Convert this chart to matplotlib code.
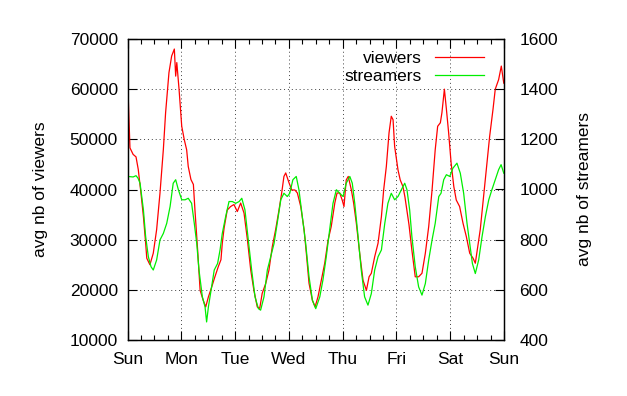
import matplotlib
matplotlib.use("Agg")
import matplotlib.pyplot as plt
from matplotlib.ticker import MultipleLocator

# ── Data (time in hours since Sunday 00:00) ─────────────────────────────────
VIEW_HOURS = [0.1, 0.7, 1.1, 2.5, 3.8, 4.8, 6.0, 7.1, 8.1, 8.6, 10.0, 11.5, 13.0,
              14.5, 16.0, 17.0, 18.5, 19.7, 20.9, 21.5, 22.0, 23.0, 24.2, 25.3,
              26.4, 27.1, 28.3, 29.4, 30.1, 31.3, 32.4, 33.8, 34.9, 36.1, 37.6,
              39.0, 40.5, 41.7, 42.3, 43.1, 44.5, 46.0, 47.5, 49.0, 50.5, 52.0,
              53.5, 55.0, 56.4, 57.9, 59.0, 60.1, 61.7, 63.1, 64.6, 66.1, 67.6,
              68.8, 69.8, 70.6, 72.1, 73.3, 74.7, 75.8, 77.3, 78.8, 79.8, 81.0,
              82.5, 83.7, 85.0, 86.5, 88.0, 89.5, 90.9, 92.5, 93.5, 94.7, 95.8,
              96.6, 97.6, 98.5, 99.9, 100.9, 102.1, 103.6, 105.1, 106.6, 107.8,
              108.8, 110.3, 111.8, 113.3, 114.3, 115.5, 116.7, 117.7, 118.5,
              119.2, 120.7, 121.7, 122.9, 123.8, 125.6, 126.9, 128.4, 129.9,
              131.4, 132.9, 134.4, 135.9, 137.3, 138.4, 139.6, 140.3, 141.4,
              142.3, 143.3, 144.4, 145.6, 146.7, 148.2, 149.7, 151.2, 152.7,
              154.2, 155.2, 156.3, 157.4, 158.9, 160.4, 161.6, 163.1, 164.1,
              165.6, 166.8, 167.9]
VIEWERS = [61300, 53300, 48300, 47000, 46500, 44000, 39300, 34600, 29300, 26300,
           25000, 27300, 32000, 39300, 48000, 55300, 63300, 66600, 68000, 62600,
           65300, 60000, 52600, 50000, 47900, 44600, 42000, 41000, 35900, 27900,
           19900, 17900, 16600, 18600, 20600, 22600, 24600, 26000, 29300, 32300,
           35900, 36600, 37000, 35600, 37300, 35300, 30000, 23900, 19900, 16600,
           16300, 19300, 21300, 23900, 28600, 32000, 35900, 39300, 42600, 43300,
           41300, 39900, 39900, 39300, 36600, 32000, 27300, 21300, 17900, 16600,
           18600, 21900, 25300, 29900, 32600, 37300, 39300, 39300, 37900, 36600,
           41900, 42600, 39900, 37300, 33300, 27300, 21900, 19900, 22600, 23300,
           26600, 29300, 34600, 39900, 44600, 51300, 54600, 53900, 48600, 43900,
           41900, 40600, 38500, 33000, 27900, 22600, 22600, 23300, 27300, 32600,
           39900, 47900, 52600, 53300, 55300, 60000, 56000, 51300, 45300, 40600,
           37900, 36600, 33300, 30600, 27300, 26300, 25300, 28600, 32000, 38600,
           45300, 50600, 56000, 60000, 61900, 64600, 61200]

STREAM_HOURS = [0.1, 2.5, 3.8, 4.7, 5.6, 7.1, 8.1, 9.3, 10.5, 11.5, 13.0, 14.5,
                16.0, 17.5, 19.0, 20.4, 21.5, 22.7, 24.2, 25.7, 27.1, 28.6, 29.8,
                30.9, 31.9, 33.4, 34.6, 35.3, 36.1, 37.3, 38.7, 40.2, 41.3, 42.3,
                43.8, 45.3, 46.8, 48.3, 49.8, 51.0, 52.4, 53.9, 55.4, 56.9, 58.4,
                59.4, 60.9, 62.4, 63.9, 65.4, 66.8, 68.4, 69.8, 71.3, 72.4, 73.8,
                75.3, 76.5, 78.0, 79.5, 81.0, 82.5, 84.0, 85.8, 87.2, 88.7, 90.2,
                91.7, 93.2, 94.7, 96.2, 97.6, 99.2, 100.3, 101.4, 102.9, 104.3,
                105.8, 107.3, 108.8, 110.3, 111.8, 113.3, 114.8, 116.2, 117.7,
                119.2, 120.7, 122.2, 123.7, 124.7, 125.9, 126.9, 128.4, 129.9,
                131.4, 132.9, 134.4, 135.9, 137.3, 138.9, 139.9, 141.1, 142.3,
                143.8, 145.2, 147.0, 148.5, 150.0, 151.5, 152.7, 153.9, 155.2,
                156.7, 158.2, 159.7, 161.2, 162.6, 164.1, 165.6, 166.7, 167.9]
STREAMERS = [1052, 1050, 1055, 1045, 1025, 919, 812, 732, 692, 679, 719, 799,
             825, 865, 932, 1025, 1039, 999, 959, 959, 965, 945, 865, 785, 679,
             572, 532, 472, 532, 599, 679, 705, 759, 825, 892, 952, 952, 945,
             952, 965, 919, 799, 679, 572, 525, 519, 572, 679, 732, 785, 865,
             959, 985, 972, 985, 1039, 1052, 999, 892, 785, 652, 559, 525, 572,
             639, 732, 839, 945, 999, 985, 972, 1025, 1052, 1025, 945, 812, 679,
             572, 539, 585, 679, 732, 759, 865, 945, 985, 959, 972, 999, 1025,
             999, 919, 812, 692, 612, 579, 625, 719, 799, 865, 972, 985, 1039,
             1059, 1052, 1085, 1105, 1065, 985, 865, 785, 705, 665, 719, 812,
             892, 959, 999, 1039, 1079, 1099, 1065]

DAY_LABELS = ["Sun", "Mon", "Tue", "Wed", "Thu", "Fri", "Sat", "Sun"]
VIEW_TICKS = [10000, 20000, 30000, 40000, 50000, 60000, 70000]
STREAM_TICKS = [400, 600, 800, 1000, 1200, 1400, 1600]

plt.rcParams["font.family"] = ["Liberation Sans", "DejaVu Sans"]
FS = 12.5

fig = plt.figure(figsize=(6.27, 3.96), dpi=100)
ax = fig.add_axes([127.5 / 627, 56 / 396, 376.5 / 627, 301 / 396])
ax2 = ax.twinx()

l1, = ax.plot(VIEW_HOURS, VIEWERS, color="#ff0000", lw=0.9, label="viewers")
l2, = ax2.plot(STREAM_HOURS, STREAMERS, color="#00ee00", lw=0.9, label="streamers")

ax.set_xlim(0, 168)
ax.set_ylim(VIEW_TICKS[0], VIEW_TICKS[-1])
ax2.set_ylim(STREAM_TICKS[0], STREAM_TICKS[-1])

ax.set_xticks([24 * i for i in range(len(DAY_LABELS))])
ax.set_xticklabels(DAY_LABELS)
ax.xaxis.set_minor_locator(MultipleLocator(6))
ax.set_yticks(VIEW_TICKS)
ax2.set_yticks(STREAM_TICKS)

ax.tick_params(axis="x", which="both", direction="in", top=True, labelsize=FS, pad=9)
ax.tick_params(axis="x", which="major", length=6.5, width=0.8)
ax.tick_params(axis="x", which="minor", length=3.3, width=0.8)
ax.tick_params(axis="y", direction="in", length=6.5, width=0.8, right=False,
               labelsize=FS, pad=7)
ax2.tick_params(axis="y", direction="in", length=6.5, width=0.8, labelsize=FS, pad=11)

ax.grid(True, which="major", color="0.25", linestyle=(0, (1, 3)), lw=0.7)
for a in (ax, ax2):
    for sp in a.spines.values():
        sp.set_linewidth(0.9)

ax.set_ylabel("avg nb of viewers", fontsize=FS)
ax.yaxis.set_label_coords(-0.211, 0.5)
ax2.set_ylabel("avg nb of streamers", fontsize=FS)
ax2.yaxis.set_label_coords(1.194, 0.5)

# gnuplot-style key: text right-aligned, sample line after it
ax2.legend([l1, l2], ["viewers", "streamers"], loc="upper right",
           bbox_to_anchor=(0.955, 0.972), frameon=False, markerfirst=False,
           fontsize=FS, handlelength=2.8, handletextpad=0.75, labelspacing=0.15,
           borderaxespad=0, borderpad=0.2)

fig.savefig("out.png", dpi=100)
